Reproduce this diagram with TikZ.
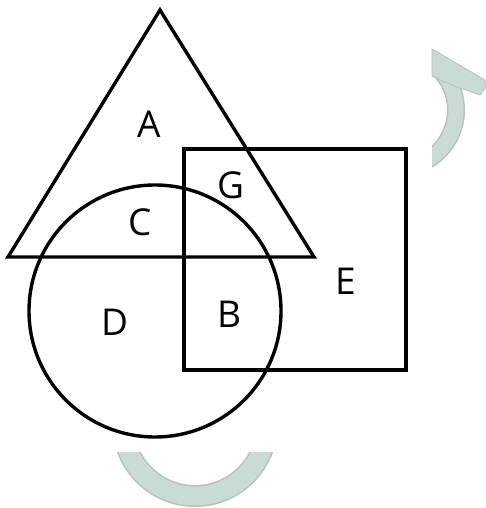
\documentclass[tikz,border=0pt]{standalone}
\usepackage{fontspec}
\setmainfont{Open Sans}
\definecolor{wm}{RGB}{201,219,214}
\definecolor{wmb}{RGB}{182,192,190}
\begin{document}
\begin{tikzpicture}[x=1pt,y=-1pt,
  outline/.style={line width=3.4pt,line join=miter},
  lbl/.style={font=\fontsize{37}{37}\selectfont,inner sep=0pt}]
\useasboundingbox (0,0) rectangle (486,508);
% watermark arcs
\begin{scope}
  \clip (432,40) rectangle (486,170);
  \draw[wmb,line width=18pt] (398,110) circle (58);
  \draw[wm,line width=15pt] (398,110) circle (58);
\end{scope}
\filldraw[fill=wm,draw=wmb,line width=0.8pt] (432,49) -- (485,80) -- (486,87) -- (480,95) -- (457,87) -- (440,80) -- (432,76) -- cycle;
\begin{scope}
  \clip (100,452) rectangle (290,508);
  \draw[wmb,line width=22pt] (195,424) circle (72);
  \draw[wm,line width=19pt] (195,424) circle (72);
\end{scope}
% shapes
\coordinate (apex) at (160,10);
\coordinate (bl) at (8,257);
\coordinate (br) at (314,257);
\draw[outline] (apex) -- (bl) -- (br) -- cycle;
\draw[outline] (184,149) rectangle (406,370);
\draw[outline] (155,311) circle (126);
% labels
\node[lbl] (A) at (149,124) {A};
\node[lbl] (G) at (231,185) {G};
\node[lbl] (C) at (140,222) {C};
\node[lbl] (E) at (346,281) {E};
\node[lbl] (D) at (115,322) {D};
\node[lbl] (B) at (229,314) {B};
\end{tikzpicture}
\end{document}
